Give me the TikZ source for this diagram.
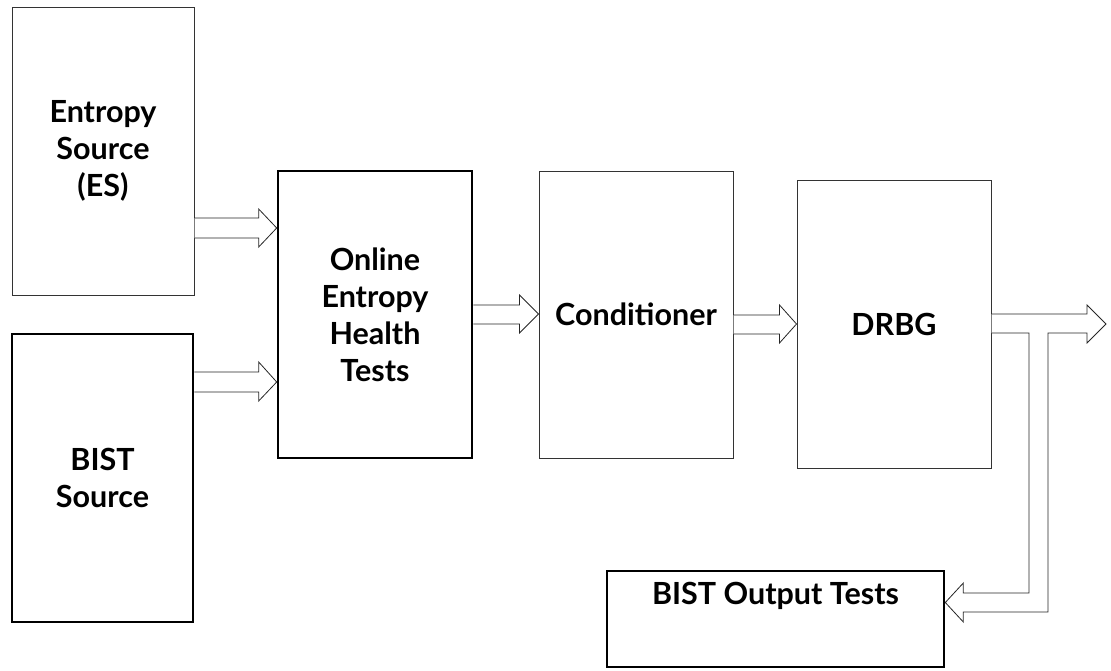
\documentclass[tikz,border=0pt]{standalone}
\usepackage{fontspec}
\setmainfont{Lato}
\usetikzlibrary{calc}
\tikzset{
  thinbox/.style={draw=black!80, line width=1pt, fill=white, minimum width=#1, inner sep=0pt, align=center,
    font=\fontsize{30.5}{37}\selectfont\bfseries},
  thinbox/.default=194pt,
  thickbox/.style={thinbox=#1, draw=black, line width=2.6pt},
  thickbox/.default=194pt,
  barrow/.style={draw=black!85, line width=0.8pt, fill=white, line join=miter},
}
\begin{document}
\begin{tikzpicture}[x=1pt,y=-1pt]
\useasboundingbox (0,0) rectangle (1111,670);
% boxes
\node[thinbox=182pt, minimum height=288pt] (es) at (103,151) {Entropy\\Source\\(ES)};
\node[thickbox=181pt, minimum height=288pt] (bist) at (102.5,478) {BIST\\Source};
\node[thickbox, minimum height=287pt] (online) at (375,314.5) {Online\\Entropy\\Health\\Tests};
\node[thinbox, minimum height=287pt] (cond) at (636,314.5) {Conditioner};
\node[thinbox, minimum height=288pt] (drbg) at (894,324) {DRBG};
\node[thickbox=337pt, minimum height=96pt,
  label={[anchor=center, yshift=23pt, font=\fontsize{30.5}{37}\selectfont\bfseries]center:BIST Output Tests}] (bout) at (775.5,619) {};
\coordinate (out) at (1106,324);
% block arrows
\draw[barrow] (es.east |- 0,218) -- ($(online.west |- 0,218)+(-18,0)$) -- ($(online.west |- 0,209)+(-18,0)$)
  -- (online.west |- 0,228) -- ($(online.west |- 0,247)+(-18,0)$) -- ($(online.west |- 0,238)+(-18,0)$) -- (es.east |- 0,238);
\draw[barrow] (bist.east |- 0,372) -- ($(online.west |- 0,372)+(-18,0)$) -- ($(online.west |- 0,362)+(-18,0)$)
  -- (online.west |- 0,382) -- ($(online.west |- 0,401)+(-18,0)$) -- ($(online.west |- 0,392)+(-18,0)$) -- (bist.east |- 0,392);
\draw[barrow] (online.east |- 0,305) -- ($(cond.west |- 0,305)+(-19,0)$) -- ($(cond.west |- 0,295)+(-19,0)$)
  -- (cond.west |- 0,314) -- ($(cond.west |- 0,333)+(-19,0)$) -- ($(cond.west |- 0,324)+(-19,0)$) -- (online.east |- 0,324);
\draw[barrow] (cond.east |- 0,315) -- ($(drbg.west |- 0,315)+(-17,0)$) -- ($(drbg.west |- 0,305)+(-17,0)$)
  -- (drbg.west |- 0,324) -- ($(drbg.west |- 0,343)+(-17,0)$) -- ($(drbg.west |- 0,334)+(-17,0)$) -- (cond.east |- 0,334);
\draw[barrow] (drbg.east |- 0,314) -- ($(out |- 0,314)+(-19,0)$) -- ($(out |- 0,305)+(-19,0)$) -- (out)
  -- ($(out |- 0,343)+(-19,0)$) -- ($(out |- 0,333)+(-19,0)$) -- (1048,333) -- (1048,612)
  -- ($(bout.east |- 0,612)+(18,0)$) -- ($(bout.east |- 0,622)+(18,0)$) -- (bout.east |- 0,602.5)
  -- ($(bout.east |- 0,583)+(18,0)$) -- ($(bout.east |- 0,593)+(18,0)$) -- (1029,593) -- (1029,333) -- (drbg.east |- 0,333);
\end{tikzpicture}
\end{document}
